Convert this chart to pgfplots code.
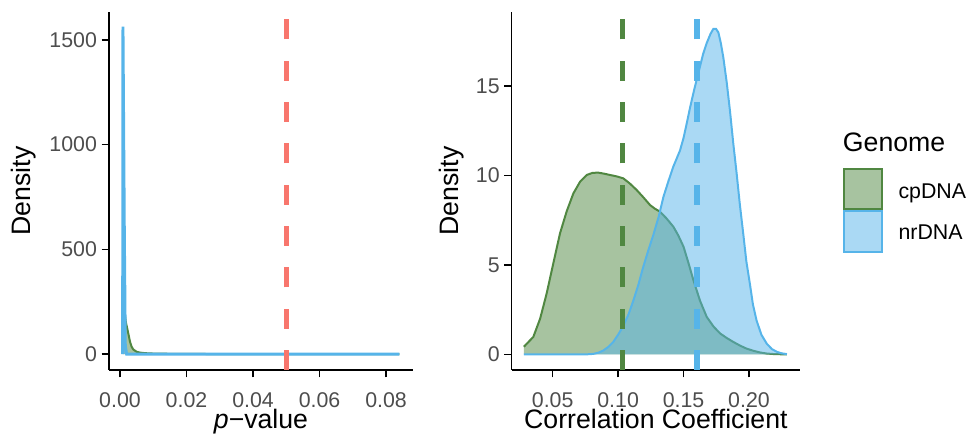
\documentclass[border=0pt]{standalone}
\usepackage{fontspec}
\setmainfont{Liberation Sans}
\usepackage{pgfplots}
\pgfplotsset{compat=1.18}
\usepackage{pgfplotstable}

\definecolor{cpgreen}{RGB}{80,135,65}
\definecolor{nrblue}{RGB}{86,180,233}
\definecolor{cutred}{RGB}{248,118,109}
\definecolor{ticktext}{RGB}{77,77,77}

% p-value densities
\pgfplotstableread{
x y
0.0008 290
0.0012 220
0.0018 150
0.0025 99
0.0030 60
0.0035 35
0.0040 22
0.0050 11
0.0060 7
0.0075 4.5
0.0090 3
0.0120 2
0.0160 1.2
0.0200 0.6
0.0300 0.2
0.0500 0.05
0.0840 0
}\pvalcp
\pgfplotstableread{
x y
0.0008 0
0.0009 1563
0.0013 600
0.0016 40
0.0020 0
0.0100 0
0.0840 0
}\pvalnr

% correlation coefficient densities
\pgfplotstableread{
x y
0.0280 0.43
0.0352 0.98
0.0404 2.0
0.0454 3.41
0.0505 5.1
0.0556 6.77
0.0607 8.0
0.0658 9.0
0.0709 9.65
0.0760 10.03
0.0805 10.15
0.0849 10.16
0.0895 10.1
0.0938 10.03
0.0990 9.95
0.1040 9.84
0.1090 9.55
0.1142 9.19
0.1193 8.78
0.1244 8.35
0.1280 8.15
0.1320 7.98
0.1370 7.6
0.1422 7.14
0.1460 6.65
0.1500 6.02
0.1538 5.1
0.1575 4.16
0.1626 3.0
0.1677 2.10
0.1730 1.55
0.1780 1.17
0.1830 0.92
0.1880 0.70
0.1930 0.5
0.1980 0.33
0.2035 0.2
0.2085 0.11
0.2136 0.05
0.2190 0.02
0.2290 0.0
}\corrcp
\pgfplotstableread{
x y
0.0280 0
0.0600 0
0.0750 0
0.0810 0.03
0.0850 0.1
0.0887 0.22
0.0925 0.42
0.0963 0.7
0.1000 1.1
0.1040 1.6
0.1080 2.25
0.1116 3.0
0.1155 3.9
0.1190 4.84
0.1230 5.8
0.1270 6.7
0.1310 7.7
0.1346 8.8
0.1385 9.7
0.1422 10.5
0.1473 11.4
0.1500 12.1
0.1524 12.9
0.1550 13.8
0.1575 14.6
0.1600 15.35
0.1626 16.1
0.1650 16.8
0.1677 17.4
0.1705 17.9
0.1728 18.2
0.1748 18.2
0.1766 18.0
0.1785 17.4
0.1804 16.6
0.1830 15.2
0.1855 13.6
0.1880 11.8
0.1906 10.1
0.1930 8.4
0.1957 6.7
0.1980 5.2
0.2008 3.9
0.2030 2.8
0.2058 1.9
0.2095 1.1
0.2136 0.6
0.2175 0.3
0.2212 0.15
0.2250 0.06
0.2290 0.02
}\corrnr

\pgfplotsset{
  gg/.style={
    scale only axis,
    height=268.5pt,
    anchor=south west,
    axis x line*=bottom,
    axis y line*=left,
    axis line style={-, line width=1.1pt, black},
    tick align=outside,
    major tick length=5.5pt,
    tick style={black, line width=1.1pt},
    ticklabel style={font=\fontsize{16}{18}\selectfont, text=ticktext},
    label style={font=\fontsize{20}{24}\selectfont, inner sep=0pt},
    /pgf/number format/assume math mode=true,
    /pgf/number format/1000 sep={},
    scaled ticks=false,
    xticklabel style={inner sep=0pt, yshift=-11pt, /pgf/number format/.cd, fixed, fixed zerofill, precision=2},
  },
  dens/.style={line width=1.5pt},
  vl/.style={line width=4pt, dash pattern=on 15pt off 16pt},
}

\begin{document}
\begin{tikzpicture}
\path[use as bounding box] (0,0) rectangle (728.25pt,326.25pt);

\begin{axis}[gg,
  at={(81.75pt,48.75pt)}, width=228pt,
  xmin=-0.0033, xmax=0.0881, ymin=-76, ymax=1633,
  xtick={0,0.02,0.04,0.06,0.08},
  ytick={0,500,1000,1500},
  yticklabel style={/pgf/number format/fixed},
  xlabel={\textit{p}−value}, ylabel={Density},
  xlabel style={at={(axis description cs:0.5,-0.1648)}, anchor=base},
  ylabel style={at={(axis description cs:-0.2796,0.5)}, anchor=center},
]
\addplot[draw=none, fill=cpgreen, fill opacity=0.5] table {\pvalcp} \closedcycle;
\addplot[cpgreen, dens] table {\pvalcp};
\addplot[draw=none, fill=nrblue, fill opacity=0.5] table {\pvalnr} \closedcycle;
\addplot[nrblue, line width=2.2pt] table {\pvalnr};
\addplot[cutred, vl] coordinates {(0.05,-76) (0.05,1633)};
\end{axis}

\begin{axis}[gg,
  at={(383.8pt,48.75pt)}, width=216.2pt,
  xmin=0.0187, xmax=0.239, ymin=-0.87, ymax=19.14,
  xtick={0.05,0.10,0.15,0.20},
  ytick={0,5,10,15},
  xlabel={Correlation Coefficient}, ylabel={Density},
  xlabel style={at={(axis description cs:0.5,-0.1648)}, anchor=base},
  ylabel style={at={(axis description cs:-0.208,0.5)}, anchor=center},
]
\addplot[draw=none, fill=cpgreen, fill opacity=0.5] table {\corrcp} \closedcycle;
\addplot[cpgreen, dens] table {\corrcp};
\addplot[draw=none, fill=nrblue, fill opacity=0.5] table {\corrnr} \closedcycle;
\addplot[nrblue, dens] table {\corrnr};
\addplot[cpgreen, vl] coordinates {(0.1034,-0.87) (0.1034,19.14)};
\addplot[nrblue, vl] coordinates {(0.1602,-0.87) (0.1602,19.14)};
\end{axis}

% legend
\node[anchor=base west, font=\fontsize{20}{24}\selectfont, inner sep=0pt] at (632pt,212.25pt) {Genome};
\draw[cpgreen, line width=1.5pt, fill=cpgreen, fill opacity=0.5] (632.75pt,169.5pt) rectangle (661.75pt,199.25pt);
\draw[nrblue, line width=1.5pt, fill=nrblue, fill opacity=0.5] (632.75pt,137pt) rectangle (661.75pt,168pt);
\node[anchor=base west, font=\fontsize{16}{18}\selectfont, inner sep=0pt] at (673.7pt,177.5pt) {cpDNA};
\node[anchor=base west, font=\fontsize{16}{18}\selectfont, inner sep=0pt] at (673.7pt,146.25pt) {nrDNA};
\end{tikzpicture}
\end{document}
